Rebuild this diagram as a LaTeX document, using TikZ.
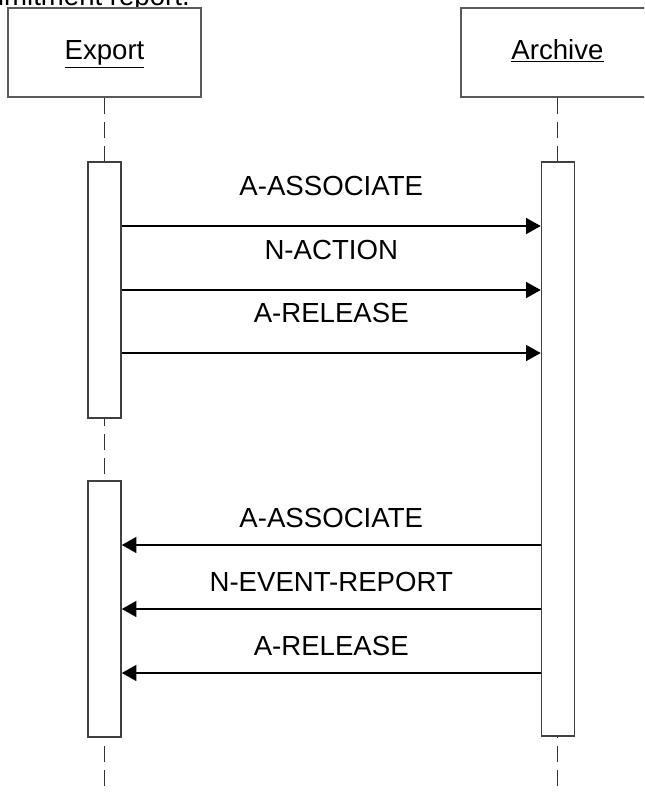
\documentclass[tikz,border=0pt]{standalone}
\usepackage{fontspec}
\setmainfont{Liberation Sans}
\usetikzlibrary{arrows.meta, positioning}

\begin{document}
\begin{tikzpicture}[
    x=0.75pt, y=-0.75pt,
    font=\fontsize{20.7}{24}\selectfont,
    actor/.style={rectangle, draw=black!65, line width=1.5pt, fill=white, minimum width=144.75pt, minimum height=66.75pt, inner sep=0pt, text height=15pt, text depth=4.5pt},
    act/.style={rectangle, draw=black!75, line width=1.2pt, fill=white, minimum width=24.75pt, inner sep=0pt, anchor=north},
    life/.style={draw=black!80, line width=1.2pt, dash pattern=on 12pt off 6pt},
    msg/.style={-{Triangle[length=11pt, width=12pt]}, line width=1.2pt},
    lbl/.style={inner sep=0pt, anchor=base}
]
\clip (0,0) rectangle (644,794);

% Caption remainder at the top
\node[lbl, anchor=base east] (note) at (190,5) {commitment report.};

% Actors
\node[actor] (export) at (104.5,52.5) {\underline{Export}};
\node[actor] (archive) at (557.5,52.5) {\underline{Archive}};

\coordinate (bottom) at (0,794);

% Lifelines
\draw[life] (export.south) -- (export.south |- bottom);
\draw[life] (archive.south) -- (archive.south |- bottom);

% Activations
\node[act, minimum height=192pt] (ex1) at (104.5,161) {};
\node[act, minimum height=192pt] (ex2) at (104.5,480) {};
\node[act, minimum height=430.5pt] (ar1) at (558,161) {};

% Message rows
\coordinate (r1) at (0,226);
\coordinate (r2) at (0,290);
\coordinate (r3) at (0,353);
\coordinate (r4) at (0,545);
\coordinate (r5) at (0,609);
\coordinate (r6) at (0,673);

% Export -> Archive
\draw[msg] (ex1.east |- r1) -- (ar1.west |- r1) node[lbl, midway, yshift=23pt] (m1) {A-ASSOCIATE};
\draw[msg] (ex1.east |- r2) -- (ar1.west |- r2) node[lbl, midway, yshift=23pt] (m2) {N-ACTION};
\draw[msg] (ex1.east |- r3) -- (ar1.west |- r3) node[lbl, midway, yshift=23pt] (m3) {A-RELEASE};

% Archive -> Export
\draw[msg] (ar1.west |- r4) -- (ex2.east |- r4) node[lbl, midway, yshift=13pt] (m4) {A-ASSOCIATE};
\draw[msg] (ar1.west |- r5) -- (ex2.east |- r5) node[lbl, midway, yshift=13pt] (m5) {N-EVENT-REPORT};
\draw[msg] (ar1.west |- r6) -- (ex2.east |- r6) node[lbl, midway, yshift=13pt] (m6) {A-RELEASE};

\end{tikzpicture}
\end{document}
